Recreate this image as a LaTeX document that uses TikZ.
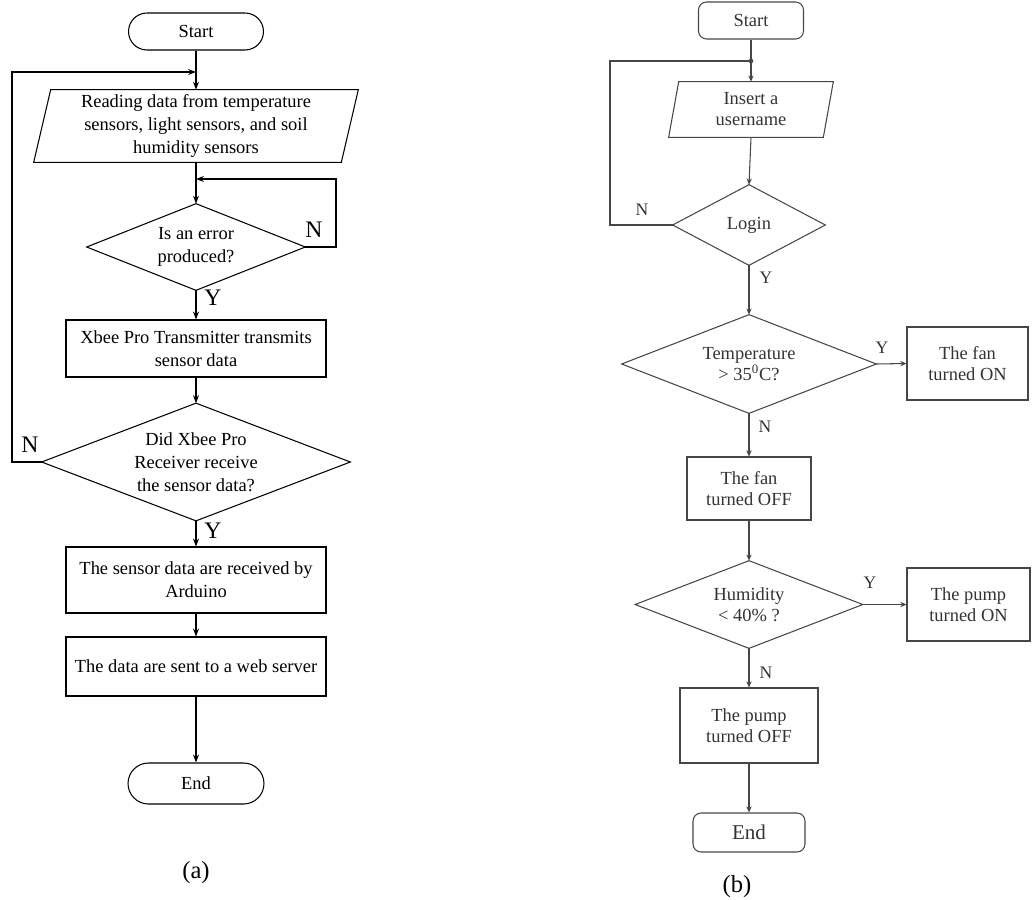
\documentclass[tikz,border=0pt]{standalone}
\usepackage{fontspec}
\setmainfont{Liberation Serif}
\usetikzlibrary{arrows.meta}
\definecolor{rgray}{RGB}{70,70,70}
\tikzset{
  lline/.style={draw=black, line width=0.6pt},
  larr/.style={lline, -{Stealth[length=4.5pt,width=3.4pt]}},
  lplain/.style={align=center, inner sep=0pt, font=\fontsize{10.5}{13}\selectfont},
  lbox/.style={lplain, draw=black, line width=0.6pt},
  lterm/.style={lbox, minimum width=2.7cm, minimum height=0.74cm, rounded corners=0.37cm},
  lyn/.style={inner sep=0pt, font=\fontsize{13.5}{15}\selectfont},
  rline/.style={draw=rgray, line width=0.6pt},
  rarr/.style={rline, -{Stealth[length=3.5pt,width=3pt]}},
  rplain/.style={align=center, inner sep=0pt, text=black!80, font=\fontsize{10.5}{12}\selectfont},
  rbox/.style={rplain, draw=rgray, line width=0.6pt},
  ryn/.style={inner sep=0pt, text=black!80, font=\fontsize{10}{12}\selectfont},
  captext/.style={inner sep=0pt, font=\fontsize{14}{16}\selectfont}
}
\begin{document}
\begin{tikzpicture}[x=0.02cm,y=-0.02cm]
\useasboundingbox (0,0) rectangle (1032,900);

% ---------------- (a) ----------------
\node[lterm] (s1) at (196,31.5) {Start};
\coordinate (j1) at (196,72);
\node[lplain, minimum width=6.14cm, minimum height=1.44cm] (read) at (196,126)
  {Reading data from temperature\\sensors, light sensors, and soil\\humidity sensors};
\draw[lline] ([xshift=0.17cm]read.north west) -- ([xshift=0.17cm]read.north east)
  -- ([xshift=-0.17cm]read.south east) -- ([xshift=-0.17cm]read.south west) -- cycle;
\coordinate (j2) at (196,179);
\node[lplain, minimum width=4.36cm, minimum height=1.72cm] (err) at (196,247) {Is an error\\produced?};
\draw[lline] (err.north) -- (err.east) -- (err.south) -- (err.west) -- cycle;
\coordinate (c2) at (336,179);
\node[lyn] (nerr) at (314,230) {N};
\node[lyn] (yerr) at (213,298) {Y};
\node[lbox, minimum width=5.2cm, minimum height=1.14cm] (tx) at (196,348.5)
  {Xbee Pro Transmitter transmits\\sensor data};
\node[lplain, minimum width=6.16cm, minimum height=2.34cm] (rx) at (196,462)
  {Did Xbee Pro\\Receiver receive\\the sensor data?};
\draw[lline] (rx.north) -- (rx.east) -- (rx.south) -- (rx.west) -- cycle;
\coordinate (c1) at (12,72);
\node[lyn] (nrx) at (30,445) {N};
\node[lyn] (yrx) at (213,531) {Y};
\node[lbox, minimum width=5.2cm, minimum height=1.32cm] (ard) at (196,580)
  {The sensor data are received by\\Arduino};
\node[lbox, minimum width=5.2cm, minimum height=1.18cm] (web) at (196,666.5)
  {The data are sent to a web server};
\node[lterm, minimum width=2.72cm, minimum height=0.82cm, rounded corners=0.41cm] (e1) at (196,783.5) {End};
\node[captext] (capa) at (196,873) {(a)};

\draw[lline] (s1.south) -- (j1);
\draw[larr] (j1) -- (read.north);
\draw[larr] (rx.west) -| (c1) -- (j1);
\draw[lline] (read.south) -- (j2);
\draw[larr] (j2) -- (err.north);
\draw[larr] (err.east) -| (c2) -- (j2);
\draw[larr] (err.south) -- (tx.north);
\draw[larr] (tx.south) -- (rx.north);
\draw[larr] (rx.south) -- (ard.north);
\draw[larr] (ard.south) -- (web.north);
\draw[larr] (web.south) -- (e1.north);

% ---------------- (b) ----------------
\node[rbox, minimum width=2.1cm, minimum height=0.74cm, rounded corners=0.16cm] (s2) at (751,20.5) {Start};
\coordinate (j3) at (751,61);
\node[rplain, minimum width=3.08cm, minimum height=1.1cm] (user) at (751,109.5) {Insert a\\username};
\draw[rline] ([xshift=0.1cm]user.north west) -- ([xshift=0.1cm]user.north east)
  -- ([xshift=-0.1cm]user.south east) -- ([xshift=-0.1cm]user.south west) -- cycle;
\node[rplain, minimum width=3.04cm, minimum height=1.6cm] (login) at (749,225) {Login};
\draw[rline] (login.north) -- (login.east) -- (login.south) -- (login.west) -- cycle;
\coordinate (c3) at (610,61);
\node[ryn] (nlog) at (642,210) {N};
\node[ryn] (ylog) at (766,278) {Y};
\node[rplain, minimum width=5.08cm, minimum height=1.96cm] (temp) at (749,364) {Temperature\\> 35\textsuperscript{0}C?};
\draw[rline] (temp.north) -- (temp.east) -- (temp.south) -- (temp.west) -- cycle;
\node[ryn] (ytemp) at (882,348) {Y};
\node[ryn] (ntemp) at (765,427) {N};
\node[rbox, minimum width=2.42cm, minimum height=1.46cm] (fanon) at (967.5,363.5) {The fan\\turned ON};
\node[rbox, minimum width=2.48cm, minimum height=1.26cm] (fanoff) at (749,488.5) {The fan\\turned OFF};
\node[rplain, minimum width=4.54cm, minimum height=1.74cm] (hum) at (749,604.5) {Humidity\\< 40\% ?};
\draw[rline] (hum.north) -- (hum.east) -- (hum.south) -- (hum.west) -- cycle;
\node[ryn] (yhum) at (870,583) {Y};
\node[ryn] (nhum) at (766,673) {N};
\node[rbox, minimum width=2.46cm, minimum height=1.46cm] (pumpon) at (968.5,604.5) {The pump\\turned ON};
\node[rbox, minimum width=2.76cm, minimum height=1.5cm] (pumpoff) at (749,725.5) {The pump\\turned OFF};
\node[rbox, minimum width=2.24cm, minimum height=0.78cm, rounded corners=0.16cm, font=\fontsize{12}{14}\selectfont] (e2) at (749,832.5) {End};
\node[captext] (capb) at (737,887) {(b)};

\draw[rline] (s2.south) -- (j3);
\fill[rgray] (j3) circle[radius=1.3pt];
\draw[rarr] (j3) -- (user.north);
\draw[rline] (login.west) -| (c3) -- (j3);
\draw[rarr] (user.south) -- (login.north);
\draw[rarr] (login.south) -- (temp.north);
\draw[rarr] (temp.east) -- (fanon.west);
\draw[rarr] (temp.south) -- (fanoff.north);
\draw[rarr] (fanoff.south) -- (hum.north);
\draw[rarr] (hum.east) -- (pumpon.west);
\draw[rarr] (hum.south) -- (pumpoff.north);
\draw[rarr] (pumpoff.south) -- (e2.north);
\end{tikzpicture}
\end{document}
